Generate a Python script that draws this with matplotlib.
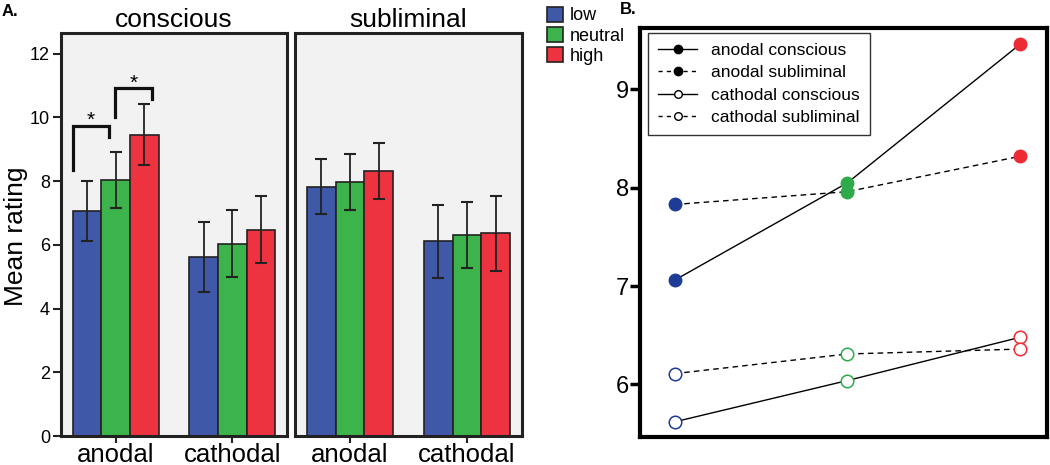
import matplotlib
matplotlib.use("Agg")
import matplotlib.pyplot as plt
import numpy as np
from matplotlib.lines import Line2D

plt.rcParams['font.family'] = ['Liberation Sans', 'DejaVu Sans']

# ---------------- data ----------------
groups = ["anodal", "cathodal"]
levels = ["low", "neutral", "high"]
# conscious: rows = anodal, cathodal ; cols = low, neutral, high
conscious_means = [[7.06, 8.05, 9.46], [5.62, 6.04, 6.48]]
conscious_err = [[0.94, 0.88, 0.95], [1.10, 1.05, 1.06]]
subliminal_means = [[7.83, 7.96, 8.32], [6.11, 6.31, 6.36]]
subliminal_err = [[0.85, 0.88, 0.87], [1.15, 1.04, 1.18]]

line_labels = ["anodal conscious", "anodal subliminal",
               "cathodal conscious", "cathodal subliminal"]
line_values = [conscious_means[0], subliminal_means[0],
               conscious_means[1], subliminal_means[1]]

bar_colors = ["#4058A8", "#3CB44B", "#EE3340"]
pt_colors = ["#1E3C96", "#2EAA4A", "#EE2A33"]

W, H = 1050, 465
fig = plt.figure(figsize=(W / 100, H / 100), dpi=100)

def fx(px):
    return px / W

def fy(py):
    return 1 - py / H

bw = 0.246
ylimA = (0, 12.65)

def bar_panel(ax, means, errs, title, show_y):
    x = np.arange(len(groups))
    for j, lev in enumerate(levels):
        vals = [m[j] for m in means]
        e = [er[j] for er in errs]
        ax.bar(x + (j - 1) * bw, vals, width=bw, color=bar_colors[j],
               edgecolor="#222222", linewidth=1.2, label=lev, zorder=2)
        ax.errorbar(x + (j - 1) * bw, vals, yerr=e, fmt="none",
                    ecolor="#222222", elinewidth=1.3, capsize=4,
                    capthick=1.5, zorder=3)
    ax.set_facecolor("#F2F2F2")
    ax.set_xlim(-0.47, 1.47)
    ax.set_ylim(*ylimA)
    ax.set_xticks(x)
    ax.set_xticklabels(groups, fontsize=18.5)
    for s in ax.spines.values():
        s.set_linewidth(2.2)
        s.set_color("#222222")
    ax.tick_params(axis="x", length=5, width=1.5, pad=0, color="#222222")
    if show_y:
        ax.set_yticks([0, 2, 4, 6, 8, 10, 12])
        ax.set_yticklabels(["0", "2", "4", "6", "8", "10", "12"], fontsize=13)
        ax.tick_params(axis="y", length=6, width=1.5, pad=2, color="#222222")
    else:
        ax.set_yticks([])
    ax.set_title(title, fontsize=19, pad=4)

axA1 = fig.add_axes([fx(61), fy(436), fx(226), (436 - 33) / H])
axA2 = fig.add_axes([fx(295), fy(436), fx(227), (436 - 33) / H])
bar_panel(axA1, conscious_means, conscious_err, "conscious", True)
bar_panel(axA2, subliminal_means, subliminal_err, "subliminal", False)
axA1.set_ylabel("Mean rating", fontsize=19)
axA1.yaxis.set_label_coords(-0.148, 0.496)

# significance brackets (anodal conscious)
xl = -bw - bw / 2
def bracket(ax, x0, x1, yl, yt, yr, ytxt):
    ax.plot([x0, x0, x1, x1], [yl, yt, yt, yr], color="#111111",
            lw=2.3, solid_joinstyle="miter", zorder=4)
    ax.text((x0 + x1) / 2, ytxt, "*", ha="center", va="center", fontsize=15)

bracket(axA1, xl, -0.057, 8.35, 9.73, 9.39, 9.9)
bracket(axA1, -0.006, 0.308, 10.0, 10.91, 10.57, 11.08)

# legend for A
handles, labels = axA1.get_legend_handles_labels()
legA = fig.legend(handles, labels, loc="upper left",
                  bbox_to_anchor=(fx(534), fy(-6)), frameon=False,
                  fontsize=13, handlelength=0.9, handleheight=0.9,
                  handletextpad=0.4, labelspacing=0.15, borderpad=0.2)

# ---------------- panel B ----------------
axB = fig.add_axes([fx(640), fy(437.3), fx(407), (437.3 - 28) / H])
xs = np.arange(len(levels))
styles = [("-", True), ("--", True), ("-", False), ("--", False)]
for vals, lab, (ls, filled) in zip(line_values, line_labels, styles):
    axB.plot(xs, vals, ls=ls, color="black", lw=1.0, zorder=2,
             dashes=(4, 3) if ls == "--" else (None, None))
    for xi, v, c in zip(xs, vals, pt_colors):
        if filled:
            axB.plot(xi, v, "o", ms=9, mfc=c, mec=c, zorder=3)
        else:
            axB.plot(xi, v, "o", ms=9, mfc="white", mec=c, mew=1.1, zorder=3)
# legend proxies (black)
proxies = []
for lab, (ls, filled) in zip(line_labels, styles):
    proxies.append(Line2D([0], [0], ls=ls, color="black", lw=1.0,
                          marker="o", ms=6 if filled else 5.5,
                          mfc="black" if filled else "white", mec="black",
                          dashes=(3, 3) if ls == "--" else (None, None)))
legB = axB.legend(proxies, line_labels, loc="upper left", fontsize=12.5,
                  frameon=True, fancybox=False, edgecolor="black",
                  handlelength=2.3, handletextpad=0.8, labelspacing=0.42,
                  borderpad=0.55, borderaxespad=0,
                  bbox_to_anchor=(8 / 407, 1 - (33.3 - 28) / 409.3))
legB.get_frame().set_linewidth(1.0)
axB.set_xlim(-0.2, 2.155)
axB.set_ylim(5.463, 9.624)
axB.set_xticks([])
axB.set_yticks([6, 7, 8, 9])
axB.set_yticklabels(["6", "7", "8", "9"], fontsize=17)
axB.tick_params(axis="y", length=7, width=2.5, pad=1)
for s in axB.spines.values():
    s.set_linewidth(3)

fig.text(fx(2), fy(4), "A.", fontsize=12, fontweight="bold", va="top", ha="left")
fig.text(fx(620), fy(2), "B.", fontsize=12, fontweight="bold", va="top", ha="left")

fig.savefig("out.png", dpi=100)
